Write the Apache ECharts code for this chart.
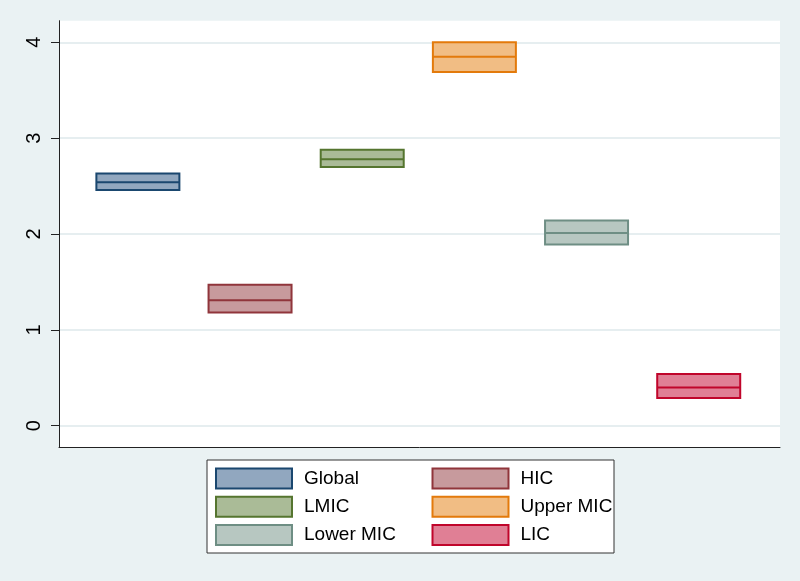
<!DOCTYPE html>
<html>
<head>
<meta charset="utf-8">
<script src="https://cdn.jsdelivr.net/npm/echarts@6/dist/echarts.min.js"></script>
<style>
html,body{margin:0;padding:0;background:#eaf2f3;}
#chart{width:800px;height:581px;}
</style>
</head>
<body>
<div id="chart"></div>
<script>
// ---- data ----
const categories = ['Global', 'HIC', 'LMIC', 'Upper MIC', 'Lower MIC', 'LIC'];
const q1Values     = [2.46, 1.18, 2.70, 3.69, 1.89, 0.29];
const medianValues = [2.54, 1.31, 2.78, 3.85, 2.01, 0.40];
const q3Values     = [2.63, 1.47, 2.88, 4.00, 2.14, 0.54];
const yTickValues  = [0, 1, 2, 3, 4];
const yMin = -0.225, yMax = 4.225;

// ---- styles ----
const borderColors = ['#1a476f', '#90353b', '#55752f', '#e37a0b', '#6e8e84', '#c0052b'];
const fillColors   = ['#91a7bf', '#c79a9d', '#aabb97', '#f1bd84', '#b7c7c1', '#e07f95'];

const chart = echarts.init(document.getElementById('chart'), null, {renderer: 'canvas'});

const boxData = categories.map((c, i) => ({
  name: c,
  value: [q1Values[i], q1Values[i], medianValues[i], q3Values[i], q3Values[i]],
  itemStyle: {color: fillColors[i], borderColor: borderColors[i], borderWidth: 2}
}));

const legendSeries = categories.map((c, i) => ({
  name: c,
  type: 'bar',
  xAxisIndex: 1,
  yAxisIndex: 1,
  data: [],
  itemStyle: {color: fillColors[i], borderColor: borderColors[i], borderWidth: 2}
}));

const legendCommon = {
  orient: 'vertical',
  icon: 'rect',
  itemWidth: 76,
  itemHeight: 20,
  itemGap: 6.3,
  padding: 0,
  selectedMode: false,
  itemStyle: {borderWidth: 2},
  textStyle: {fontFamily: 'Liberation Sans, Arial, sans-serif', fontSize: 19, color: '#000', lineHeight: 20, padding: [0, 0, 0, 7]}
};

const option = {
  backgroundColor: '#eaf2f3',
  animation: false,
  graphic: [{
    type: 'rect',
    z: 0,
    shape: {x: 207, y: 460, width: 407, height: 93},
    style: {fill: '#ffffff', stroke: '#333333', lineWidth: 1}
  }],
  legend: [
    Object.assign({}, legendCommon, {left: 215, top: 467.5, data: [categories[0], categories[2], categories[4]]}),
    Object.assign({}, legendCommon, {left: 431.5, top: 467.5, data: [categories[1], categories[3], categories[5]]})
  ],
  grid: [
    {left: 59, top: 20.7, right: 20, bottom: 133.7, show: true, backgroundColor: '#ffffff', borderWidth: 0},
    {left: 81.8, top: 20.7, right: 45.2, bottom: 133.7}
  ],
  xAxis: [
    {
      type: 'value', gridIndex: 0, min: 0, max: 1,
      axisLine: {show: true, onZero: false, lineStyle: {color: '#222', width: 1}},
      axisTick: {show: false}, axisLabel: {show: false}, splitLine: {show: false}
    },
    {
      type: 'category', gridIndex: 1, data: categories, show: false
    }
  ],
  yAxis: [
    {
      type: 'value', gridIndex: 0, min: yMin, max: yMax,
      axisLine: {show: true, onZero: false, lineStyle: {color: '#222', width: 1}},
      axisTick: {show: true, length: 8, customValues: yTickValues, lineStyle: {color: '#222', width: 1}},
      axisLabel: {
        customValues: yTickValues, rotate: 90, margin: 15,
        fontFamily: 'Liberation Sans, Arial, sans-serif', fontSize: 20, color: '#000'
      },
      splitLine: {show: true, lineStyle: {color: '#e6eef0', width: 2}}
    },
    {
      type: 'value', gridIndex: 1, min: yMin, max: yMax, show: false
    }
  ],
  series: [
    {
      type: 'boxplot',
      xAxisIndex: 1,
      yAxisIndex: 1,
      boxWidth: [83, 83],
      data: boxData,
      z: 5
    }
  ].concat(legendSeries)
};

chart.setOption(option);
</script>
</body>
</html>
